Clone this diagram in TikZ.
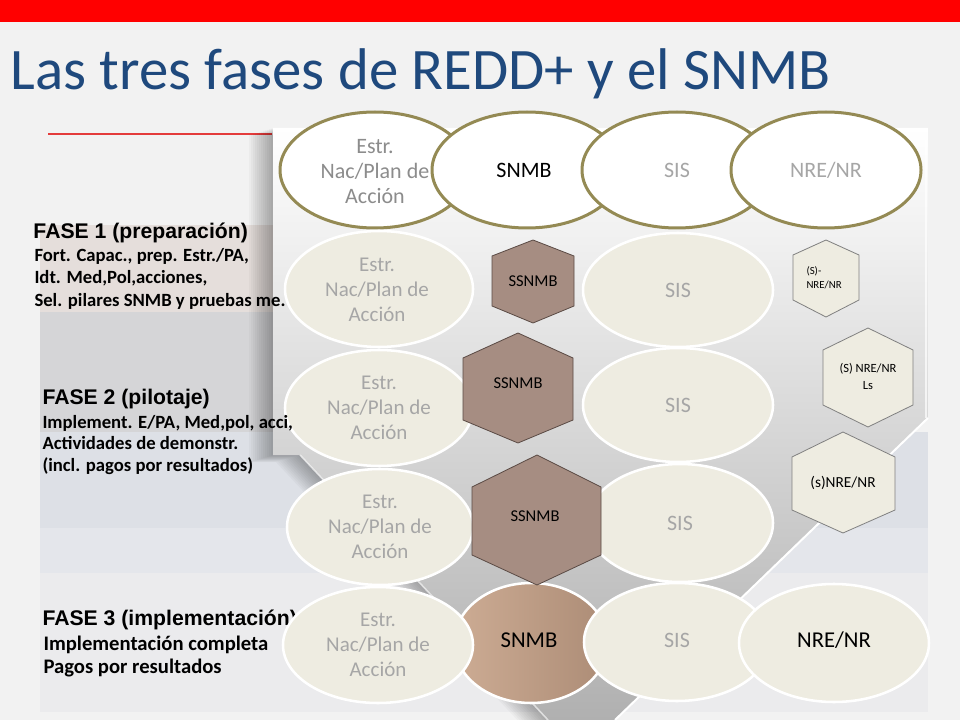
\documentclass[tikz,border=0pt]{standalone}
\usepackage{fontspec}
\setmainfont{Carlito}
\newfontfamily\arialfont{Liberation Sans}

\definecolor{slidebg}{RGB}{242,242,242}
\definecolor{titlebar}{RGB}{255,0,0}
\definecolor{titleblue}{RGB}{31,73,125}
\definecolor{ruleline}{RGB}{228,60,60}
\definecolor{olivebd}{RGB}{148,138,84}
\definecolor{creamfill}{RGB}{238,236,225}
\definecolor{hexbrown}{RGB}{166,141,130}
\definecolor{hexedge}{RGB}{90,74,68}
\definecolor{txtgrey}{RGB}{166,166,166}
\definecolor{txtdark}{RGB}{140,140,140}
\definecolor{bandrose}{RGB}{229,222,219}
\definecolor{bandgrey}{RGB}{213,213,215}
\definecolor{bandblue}{RGB}{221,224,230}
\definecolor{bandpale}{RGB}{228,230,235}
\definecolor{bandlight}{RGB}{235,235,237}
\definecolor{panelmid}{RGB}{198,198,198}
\definecolor{panelgrey}{RGB}{176,176,176}
\definecolor{snmbleft}{RGB}{205,172,148}
\definecolor{snmbright}{RGB}{172,140,118}

\tikzset{every picture/.style={line width=0.75pt}}
\tikzset{
  topell/.style={draw=olivebd, line width=2.25pt, fill=white},
  creamell/.style={draw=white, line width=1.9pt, fill=creamfill},
  hexdark/.style={draw=hexedge, line width=0.6pt, fill=hexbrown},
  hexlight/.style={draw=gray, line width=0.6pt, fill=creamfill},
  fasehead/.style={anchor=base west, inner sep=0pt, font=\arialfont\bfseries\fontsize{15.9}{18}\selectfont},
  faseline/.style={anchor=base west, inner sep=0pt, font=\bfseries\fontsize{14}{17}\selectfont},
  faselinebig/.style={anchor=base west, inner sep=0pt, font=\bfseries\fontsize{15.5}{18}\selectfont},
  esttop/.style={inner sep=0pt, align=center, text=txtdark, font=\fontsize{16.5}{18.75}\selectfont},
  estcream/.style={inner sep=0pt, align=center, text=txtgrey, font=\fontsize{15.75}{18.75}\selectfont},
  bigtxt/.style={inner sep=0pt, font=\fontsize{16.5}{19}\selectfont},
  ssntxt/.style={inner sep=0pt, font=\fontsize{12.4}{14}\selectfont}
}

\begin{document}
\begin{tikzpicture}[x=0.75pt,y=0.75pt,yscale=-1,xscale=1]
	\useasboundingbox (0,0) rectangle (960,720);
	\fill [slidebg] (0,0) rectangle (960,720);

	%Shape: Rectangle 
	\fill [titlebar] (0,0) rectangle (960,22);
	% Text Node
	\draw (10,90) node [anchor=base west, inner sep=0pt, text=titleblue, font=\fontsize{44.1}{50}\selectfont] (title) {Las tres fases de REDD+ y el SNMB};
	%Straight Lines 
	\draw [color=ruleline, line width=1pt] (48,134) -- (272,134) ;

	%Shape: Rectangle (phase bands)
	\fill [bandrose] (40,225) rectangle (273,312);
	\fill [bandgrey] (40,312) rectangle (273,432);
	\fill [bandblue] (40,432) rectangle (928,528);
	\fill [bandpale] (40,528) rectangle (928,573);
	\fill [bandlight] (40,573) rectangle (928,712);

	%Shape: Funnel shadow 
	\foreach \d in {2,4,...,24}
	  \fill [black, opacity=0.028, shift={(-\d,0.3*\d)}] (273,128) -- (928,128) -- (928,418) -- (615,720) -- (548,720) -- (300,455) -- (273,455) -- cycle;
	%Shape: Funnel 
	\shade [top color=white, middle color=panelmid, bottom color=panelgrey] (273,128) -- (928,128) -- (928,418) -- (615,720) -- (548,720) -- (300,455) -- (273,455) -- cycle;
	\draw [white, line width=1.5pt] (928,418) -- (615,720) ;
	\draw [white, opacity=0.6, line width=1.2pt] (300,455) -- (548,720) ;
	\draw [white, opacity=0.7, line width=2pt] (926,130) -- (926,418) ;

	% Text Node
	\draw (42,625) node [fasehead] (f3) {FASE 3 (implementación)};
	% Text Node
	\draw (43,650) node [faselinebig] (f3a) {Implementación completa};
	% Text Node
	\draw (43,673) node [faselinebig] (f3b) {Pagos por resultados};

	%Shape: Ellipse (top row)
	\draw [topell] (375,170) ellipse (95 and 58);
	\draw (375,172) node [esttop] (estTop) {Estr.\\Nac/Plan de\\Acción};
	\draw [topell] (527,170) ellipse (95 and 58);
	\draw (524,170) node [bigtxt] (snmbTop) {SNMB};
	\draw [topell] (677,170) ellipse (95 and 58);
	\draw (677,170) node [bigtxt, text=txtgrey] (sisTop) {SIS};
	\draw [topell] (826,170) ellipse (95 and 58);
	\draw (826,170) node [bigtxt, text=txtgrey] (nreTop) {NRE/NR};

	%Shape: Ellipse (row 1)
	\draw [creamell] (379,289) ellipse (94 and 58);
	\draw (377,290) node [estcream] (estA) {Estr.\\Nac/Plan de\\Acción};
	\draw [creamell] (678,290) ellipse (95 and 57);
	\draw (678,290) node [bigtxt, text=txtgrey] (sisA) {SIS};
	%Shape: Hexagon 
	\draw [hexdark] (533,240) -- (574,256) -- (574,306) -- (533,323) -- (492,306) -- (492,256) -- cycle ;
	\draw (533,281) node [ssntxt] (ssnA) {SSNMB};
	\draw [hexlight] (826,240) -- (859,255) -- (859,300) -- (826,317) -- (793,300) -- (793,255) -- cycle ;
	\draw (806,275) node [anchor=base west, inner sep=0pt, font=\fontsize{8.1}{9.75}\selectfont] (nreA) {(S)-};
	\draw (806,288) node [anchor=base west, inner sep=0pt, font=\fontsize{8.1}{9.75}\selectfont] (nreAb) {NRE/NR};

	%Shape: Ellipse (row 2)
	\draw [creamell] (379,408) ellipse (94 and 58);
	\draw (379,408) node [estcream] (estB) {Estr.\\Nac/Plan de\\Acción};
	\draw [creamell] (678,405) ellipse (95 and 57);
	\draw (678,405) node [bigtxt, text=txtgrey] (sisB) {SIS};
	%Shape: Hexagon 
	\draw [hexdark] (518,333) -- (573,358) -- (573,420) -- (518,443) -- (463,420) -- (463,358) -- cycle ;
	\draw (518,383) node [ssntxt] (ssnB) {SSNMB};
	\draw [hexlight] (868,328) -- (913,350) -- (913,405) -- (868,427) -- (823,405) -- (823,350) -- cycle ;
	\draw (868,372) node [anchor=base, inner sep=0pt, font=\fontsize{9.4}{11}\selectfont] (nreB) {(S) NRE/NR};
	\draw (868,389) node [anchor=base, inner sep=0pt, font=\fontsize{9.4}{11}\selectfont] (nreBb) {Ls};

	%Shape: Ellipse (row 4)
	\shade [left color=snmbleft, right color=snmbright, draw=white, line width=1.9pt] (531,643) ellipse (77 and 60);
	\draw (529,640) node [bigtxt, font=\fontsize{17}{19}\selectfont] (snmbD) {SNMB};
	\draw [creamell] (378,645) ellipse (95 and 58);
	\draw (378,645) node [estcream] (estD) {Estr.\\Nac/Plan de\\Acción};
	\draw [creamell] (677,642) ellipse (93 and 59);
	\draw (677,640) node [bigtxt, text=txtgrey] (sisD) {SIS};
	\draw [creamell] (834,643) ellipse (95 and 59);
	\draw (834,640) node [bigtxt, font=\fontsize{17}{19}\selectfont] (nreD) {NRE/NR};

	%Shape: Ellipse (row 3)
	\draw [creamell] (380,527) ellipse (93 and 58);
	\draw (380,527) node [estcream] (estC) {Estr.\\Nac/Plan de\\Acción};
	\draw [creamell] (680,523) ellipse (93 and 59);
	\draw (680,523) node [bigtxt, text=txtgrey] (sisC) {SIS};
	%Shape: Hexagon 
	\draw [hexdark] (537,455) -- (601,487) -- (601,555) -- (537,585) -- (472,555) -- (472,487) -- cycle ;
	\draw (535,516) node [ssntxt] (ssnC) {SSNMB};
	\draw [hexlight] (843,432) -- (895,457) -- (895,510) -- (843,533) -- (792,510) -- (792,457) -- cycle ;
	\draw (843,483) node [ssntxt, font=\fontsize{11.5}{13}\selectfont] (nreC) {(s)NRE/NR};

	% Text Node
	\draw (33,239) node [fasehead] (f1) {FASE 1 (preparación)};
	% Text Node
	\draw (34,262) node [faseline] (f1a) {Fort. Capac., prep. Estr./PA,};
	% Text Node
	\draw (34,284) node [faseline] (f1b) {Idt. Med,Pol,acciones,};
	% Text Node
	\draw (34,306) node [faseline] (f1c) {Sel. pilares SNMB y pruebas me.};
	% Text Node
	\draw (42,404) node [fasehead] (f2) {FASE 2 (pilotaje)};
	% Text Node
	\draw (42,428) node [faseline] (f2a) {Implement. E/PA, Med,pol, acci,};
	% Text Node
	\draw (42,449) node [faseline] (f2b) {Actividades de demonstr.};
	% Text Node
	\draw (42,471) node [faseline] (f2c) {(incl. pagos por resultados)};

\end{tikzpicture}
\end{document}
